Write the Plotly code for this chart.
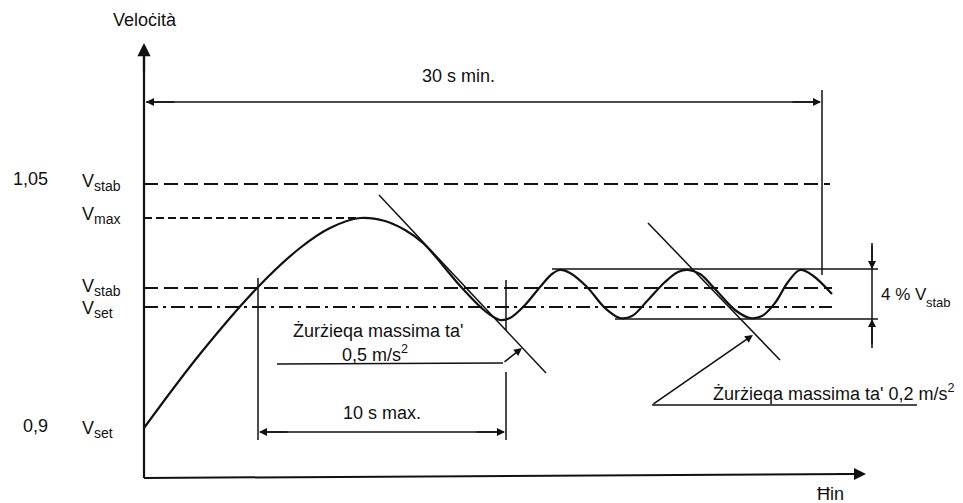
import plotly.graph_objects as go

# ---- diagram geometry (drawing units = reference pixels) ----
W, H = 963, 503
PAGE_MARGIN = 8  # default body margin of the html page
axis_x0, axis_y0 = 144, 478
yaxis_top = 43
xaxis_end = 866

# speed curve
curve_t = [144, 200, 258, 300, 330, 360, 385, 405, 423, 462, 485, 500, 510, 525, 540, 552, 560, 570,
           587, 605, 620, 632, 648, 665, 678, 688, 700, 715, 735, 750, 762, 775, 788, 800, 812, 832]
curve_v = [428, 354, 287, 248, 228, 218, 221, 230, 243, 288, 311, 320, 318, 305, 287, 274, 270, 273,
           287, 308, 318, 316, 300, 282, 272, 270, 274, 289, 310, 318, 316, 303, 282, 270, 275, 294]

# reference levels
level_y = [184, 218, 288, 307]
level_x_end = [830, 360, 832, 832]
level_dash = ["14px,6px", "8px,4px", "14px,6px", "14px,5px,3px,5px"]
band_y = [269, 319]
band_x_start = [552, 615]
band_x_end = [878, 878]

def sub(s):
    return "<sub><span style='font-size:14px'>" + s + "</span></sub>"

# left labels
level_values = ["1,05", "", "", "", "0,9"]
level_names = ["V" + sub("stab"), "V" + sub("max"), "V" + sub("stab"), "V" + sub("set"), "V" + sub("set")]
level_label_y = [182, 215, 287, 309, 429]

# tangent lines
tangent1_t = [379, 546]
tangent1_v = [195, 373]
tangent2_t = [648, 780]
tangent2_v = [223, 360]

line_col = "#111111"
font_fam = "Liberation Sans, Arial, sans-serif"
FS = 18

fig = go.Figure()

def seg(xs, ys, width=1.6, dash="solid", color=line_col):
    fig.add_trace(go.Scatter(x=xs, y=ys, mode="lines", hoverinfo="skip",
                             line=dict(color=color, width=width, dash=dash), showlegend=False))

# axes
seg([axis_x0, axis_x0], [axis_y0, yaxis_top + 12], width=2.2)
seg([axis_x0, xaxis_end - 12], [axis_y0, 474], width=2.0)

# levels
for y, xe, d in zip(level_y, level_x_end, level_dash):
    seg([axis_x0, xe], [y, y], width=1.8, dash=d)
for y, xs, xe in zip(band_y, band_x_start, band_x_end):
    seg([xs, xe], [y, y], width=1.5)

# curve
fig.add_trace(go.Scatter(x=curve_t, y=curve_v, mode="lines", hoverinfo="skip", showlegend=False,
                         line=dict(color=line_col, width=2.2, shape="spline", smoothing=1.0)))

# tangents
seg(tangent1_t, tangent1_v, width=1.5)
seg(tangent2_t, tangent2_v, width=1.5)

# vertical markers
seg([258, 258], [278, 440], width=1.5)
seg([506, 506], [280, 330], width=1.5)
seg([506, 506], [372, 440], width=1.5)
seg([822, 822], [90, 275], width=1.5)
seg([872, 872], [243, 348], width=1.5)

# dimension lines
seg([146, 820], [102, 102], width=1.6)
seg([260, 504], [432, 432], width=1.6)

# leader lines
seg([277, 503], [364, 363], width=1.6)
seg([917, 652], [405, 405], width=1.6)

def arrow(x, y, ax, ay, width=1.6, size=1.0):
    fig.add_annotation(x=x, y=y, ax=ax, ay=ay, xref="x", yref="y", axref="x", ayref="y",
                       showarrow=True, arrowhead=2, arrowsize=size, arrowwidth=width,
                       arrowcolor=line_col, text="", standoff=0)

arrow(axis_x0, yaxis_top, axis_x0, yaxis_top + 30, width=2.2, size=1.2)
arrow(xaxis_end, 474, xaxis_end - 30, 474, width=2.0, size=1.2)
arrow(146, 102, 176, 102)
arrow(821, 102, 791, 102)
arrow(259, 432, 289, 432)
arrow(505, 432, 475, 432)
arrow(872, 269, 872, 244)
arrow(872, 319, 872, 346)
arrow(522, 348, 503, 363)
arrow(753, 335, 652, 405)

def text(x, y, s, size=FS, anchor="center"):
    fig.add_annotation(x=x, y=y, xref="x", yref="y", text=s, showarrow=False,
                       xanchor=anchor, yanchor="middle",
                       font=dict(family=font_fam, size=size, color=line_col))

text(145, 20, "Veloċità")
text(458, 76, "30 s min.")
for val, name, y in zip(level_values, level_names, level_label_y):
    if val:
        text(50, y - 3, val, anchor="right")
    text(80, y, name, anchor="left")
text(378, 331, "Żurżieqa massima ta'")
text(375, 353, "0,5 m/s<sup>2</sup>")
text(382, 413, "10 s max.")
text(879, 294, "4 % V", size=17, anchor="left")
text(924, 302, "stab", size=13, anchor="left")
text(711, 392, "Żurżieqa massima ta' 0,2 m/s<sup>2</sup>", anchor="left")
text(830, 494, "Ħin")

fig.update_layout(
    width=W - PAGE_MARGIN, height=H - PAGE_MARGIN, margin=dict(l=0, r=0, t=0, b=0),
    paper_bgcolor="white", plot_bgcolor="white", showlegend=False,
    xaxis=dict(range=[PAGE_MARGIN, W], visible=False, fixedrange=True),
    yaxis=dict(range=[H, PAGE_MARGIN], visible=False, fixedrange=True),
)

fig.write_html("out.html")
